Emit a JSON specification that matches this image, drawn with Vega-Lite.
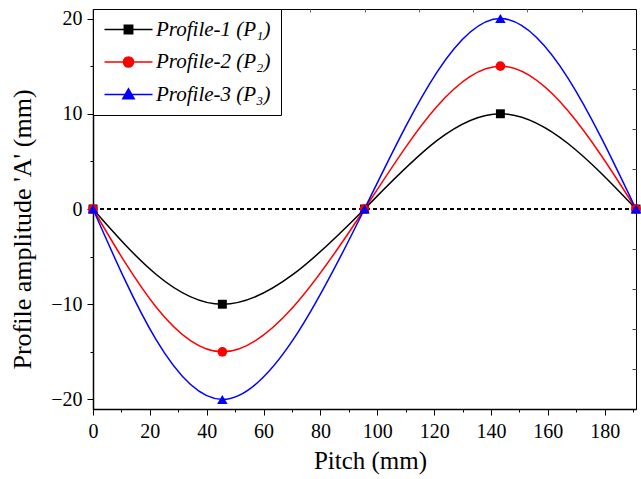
{
  "$schema": "https://vega.github.io/schema/vega-lite/v6.json",
  "autosize": {"type": "none"},
  "width": 543,
  "height": 400,
  "padding": {"left": 93, "top": 9, "right": 5, "bottom": 70},
  "background": "white",
  "config": {
    "view": {"stroke": "black", "strokeWidth": 1},
    "font": "Liberation Serif",
    "axis": {
      "labelFont": "Liberation Serif",
      "titleFont": "Liberation Serif",
      "labelFontSize": 20,
      "titleFontSize": 25,
      "titleFontWeight": "normal",
      "labelColor": "black",
      "titleColor": "black",
      "domainColor": "black",
      "tickColor": "black",
      "labelFlush": false,
      "grid": false
    },
    "legend": {
      "orient": "top-left",
      "offset": 0,
      "strokeColor": "black",
      "fillColor": "white",
      "padding": 10,
      "labelFont": "Liberation Serif",
      "labelFontSize": 21,
      "labelFontStyle": "italic",
      "labelColor": "black",
      "symbolSize": 144,
      "symbolOffset": 15,
      "labelOffset": 17,
      "rowPadding": 10.5
    }
  },
  "data": {
    "values": [
      {"pitch": 0, "amp": 0, "series": "Profile-1 (P₁)"},
      {"pitch": 45.5, "amp": -10, "series": "Profile-1 (P₁)"},
      {"pitch": 95.5, "amp": 0, "series": "Profile-1 (P₁)"},
      {"pitch": 143.3, "amp": 10, "series": "Profile-1 (P₁)"},
      {"pitch": 191, "amp": 0, "series": "Profile-1 (P₁)"},
      {"pitch": 0, "amp": 0, "series": "Profile-2 (P₂)"},
      {"pitch": 45.5, "amp": -15, "series": "Profile-2 (P₂)"},
      {"pitch": 95.5, "amp": 0, "series": "Profile-2 (P₂)"},
      {"pitch": 143.3, "amp": 15, "series": "Profile-2 (P₂)"},
      {"pitch": 191, "amp": 0, "series": "Profile-2 (P₂)"},
      {"pitch": 0, "amp": 0, "series": "Profile-3 (P₃)"},
      {"pitch": 45.5, "amp": -20, "series": "Profile-3 (P₃)"},
      {"pitch": 95.5, "amp": 0, "series": "Profile-3 (P₃)"},
      {"pitch": 143.3, "amp": 20, "series": "Profile-3 (P₃)"},
      {"pitch": 191, "amp": 0, "series": "Profile-3 (P₃)"}
    ]
  },
  "resolve": {"axis": {"x": "independent", "y": "independent"}},
  "layer": [
    {
      "mark": {"type": "rule", "stroke": "black", "strokeWidth": 1, "strokeDash": [4, 3]},
      "encoding": {
        "x": {"datum": 0, "type": "quantitative", "scale": {"domain": [0, 191], "nice": false, "zero": false},
          "axis": {"orient": "top", "values": [19.1, 38.2, 57.3, 76.4, 95.5, 114.6, 133.7, 152.8, 171.9], "tickSize": -3, "tickColor": "#666666", "labels": false, "domain": false, "title": null}},
        "x2": {"datum": 191},
        "y": {"datum": 0, "type": "quantitative", "scale": {"domain": [-21, 21], "nice": false, "zero": false},
          "axis": {"orient": "right", "values": [-16.8, -12.6, -8.4, -4.2, 0, 4.2, 8.4, 12.6, 16.8], "tickSize": -4, "tickColor": "#444444", "labels": false, "domain": false, "title": null}}
      }
    },
    {
      "mark": {"type": "line", "interpolate": "natural", "strokeWidth": 1.5},
      "encoding": {
        "x": {"field": "pitch", "type": "quantitative", "scale": {"domain": [0, 191], "nice": false, "zero": false},
          "axis": {"orient": "bottom", "values": [0, 20, 40, 60, 80, 100, 120, 140, 160, 180], "tickSize": 6, "labelPadding": 6, "labelFont": "Liberation Serif", "labelFontSize": 20, "title": "Pitch (mm)", "titlePadding": 7, "titleX": 277, "domainWidth": 1.5}},
        "y": {"field": "amp", "type": "quantitative", "scale": {"domain": [-21, 21], "nice": false, "zero": false},
          "axis": {"orient": "left", "values": [-20, -10, 0, 10, 20], "tickSize": 6, "labelPadding": 5, "labelFont": "Liberation Serif", "labelFontSize": 20, "title": "Profile amplitude 'A' (mm)", "titleFontSize": 26, "titlePadding": 15, "titleY": 220, "domainWidth": 1.5}},
        "color": {"field": "series", "type": "nominal",
          "scale": {"domain": ["Profile-1 (P₁)", "Profile-2 (P₂)", "Profile-3 (P₃)"], "range": ["#000000", "#FF0000", "#0000FF"]},
          "legend": {
            "title": null,
            "encode": {
              "symbols": {
                "update": {
                  "shape": {"signal": "datum.value === 'Profile-1 (P₁)' ? 'M-4,0H4M-0.7,-0.7H0.7V0.7H-0.7Z' : (datum.value === 'Profile-2 (P₂)' ? 'M-4,0H4M-0.85,0A0.85,0.85,0,1,0,0.85,0A0.85,0.85,0,1,0,-0.85,0Z' : 'M-4,0H4M0,-0.95L0.95,0.72H-0.95Z')"},
                  "fill": {"scale": "color", "field": "value"},
                  "stroke": {"scale": "color", "field": "value"},
                  "strokeWidth": {"value": 1.5},
                  "opacity": {"value": 1},
                  "fillOpacity": {"value": 1}
                }
              }
            }
          }
        }
      }
    },
    {
      "transform": [{"filter": "datum.series == 'Profile-1 (P₁)'"}],
      "mark": {"type": "point", "shape": "square", "filled": true, "size": 80, "opacity": 1, "color": "#000000"},
      "encoding": {
        "x": {"field": "pitch", "type": "quantitative", "scale": {"domain": [0, 191], "nice": false, "zero": false},
          "axis": {"orient": "bottom", "values": [10, 30, 50, 70, 90, 110, 130, 150, 170, 190], "tickSize": 3, "labels": false, "domain": false, "title": null}},
        "y": {"field": "amp", "type": "quantitative", "scale": {"domain": [-21, 21], "nice": false, "zero": false},
          "axis": {"orient": "left", "values": [-15, -5, 5, 15], "tickSize": 3, "labels": false, "domain": false, "title": null}}
      }
    },
    {
      "transform": [{"filter": "datum.series == 'Profile-2 (P₂)'"}],
      "mark": {"type": "point", "shape": "circle", "filled": true, "size": 95, "opacity": 1, "color": "#FF0000"},
      "encoding": {
        "x": {"field": "pitch", "type": "quantitative", "axis": null},
        "y": {"field": "amp", "type": "quantitative", "axis": null}
      }
    },
    {
      "transform": [{"filter": "datum.series == 'Profile-3 (P₃)'"}],
      "mark": {"type": "point", "shape": "triangle-up", "filled": true, "size": 110, "opacity": 1, "color": "#0000FF"},
      "encoding": {
        "x": {"field": "pitch", "type": "quantitative", "axis": null},
        "y": {"field": "amp", "type": "quantitative", "axis": null}
      }
    }
  ]
}
